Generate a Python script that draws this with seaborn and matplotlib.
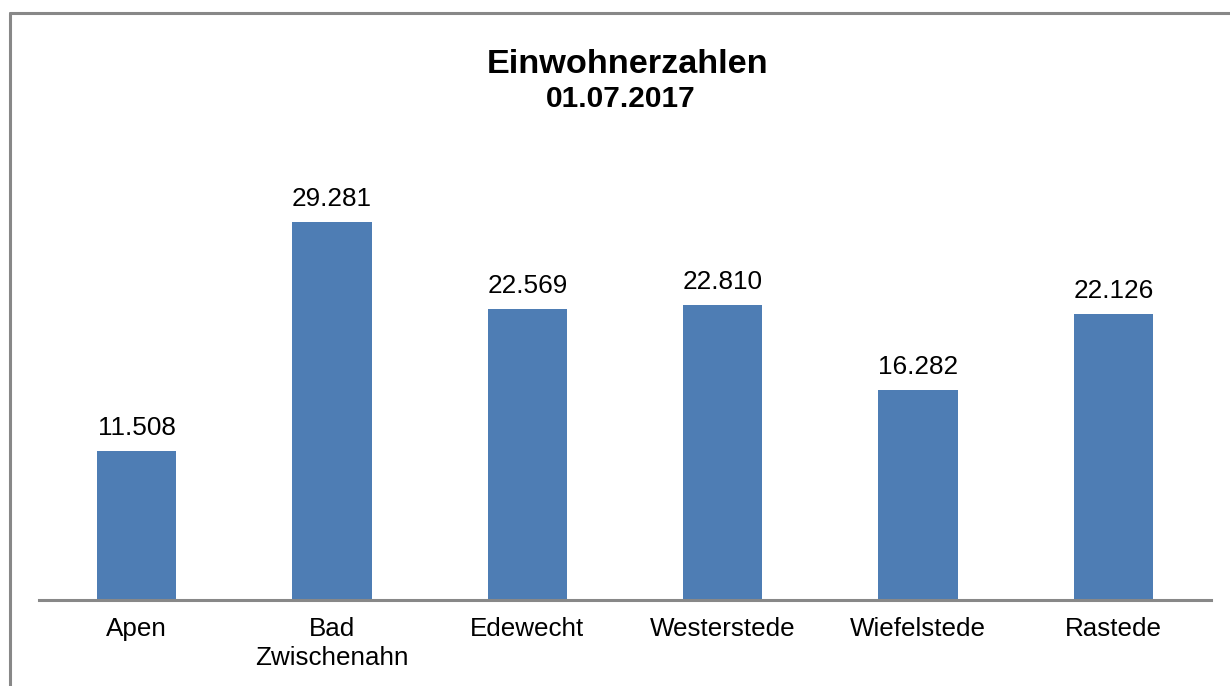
import pandas as pd
import matplotlib
matplotlib.use("Agg")
import matplotlib.pyplot as plt
from matplotlib.lines import Line2D
import seaborn as sns

gemeinden = ["Apen", "Bad\nZwischenahn", "Edewecht", "Westerstede", "Wiefelstede", "Rastede"]
einwohner = [11508, 29281, 22569, 22810, 16282, 22126]
beschriftung = ["11.508", "29.281", "22.569", "22.810", "16.282", "22.126"]

sns.set_theme(style="white")
plt.rcParams['font.family'] = ['Liberation Sans', 'DejaVu Sans']
plt.rcParams['text.color'] = 'black'
plt.rcParams['xtick.color'] = 'black'

df = pd.DataFrame({"Gemeinde": gemeinden, "Einwohner": einwohner})

fig = plt.figure(figsize=(12.3, 6.86), dpi=100)
ax = fig.add_axes([39 / 1230, 86 / 686, 1172 / 1230, 452 / 686])

sns.barplot(data=df, x="Gemeinde", y="Einwohner", color="#4e7db4", width=0.405,
            saturation=1, linewidth=0, ax=ax)
ax.set_xlim(-0.5, 5.5)
ax.set_ylim(0, 35000)

for i, (v, t) in enumerate(zip(einwohner, beschriftung)):
    ax.annotate(t, (i, v), xytext=(0, 11.5), textcoords="offset points",
                ha="center", va="baseline", fontsize=18.8, color="black")

for s in ["top", "right", "left"]:
    ax.spines[s].set_visible(False)
ax.spines["bottom"].set_color("#888888")
ax.spines["bottom"].set_linewidth(2.2)
ax.set_yticks([])
ax.set_xlabel("")
ax.set_ylabel("")
ax.tick_params(axis="x", length=0, labelsize=18.7, pad=12.5, labelcolor="black")
for lab in ax.get_xticklabels():
    lab.set_linespacing(1.27)
    lab.set_verticalalignment("top")

fig.text(627.5 / 1230, 1 - 73 / 686, "Einwohnerzahlen", ha="center", va="baseline",
         fontsize=24.7, fontweight="bold", color="black")
fig.text(620.5 / 1230, 1 - 107 / 686, "01.07.2017", ha="center", va="baseline",
         fontsize=21.5, fontweight="bold", color="black")

# Rahmen oben und links
fig.add_artist(Line2D([10 / 1230, 1], [1 - 13 / 686, 1 - 13 / 686], color="#888888",
                      linewidth=2.2, transform=fig.transFigure))
fig.add_artist(Line2D([10 / 1230, 10 / 1230], [0, 1 - 13 / 686], color="#888888",
                      linewidth=2.2, transform=fig.transFigure))

fig.savefig("out.png", dpi=100)
